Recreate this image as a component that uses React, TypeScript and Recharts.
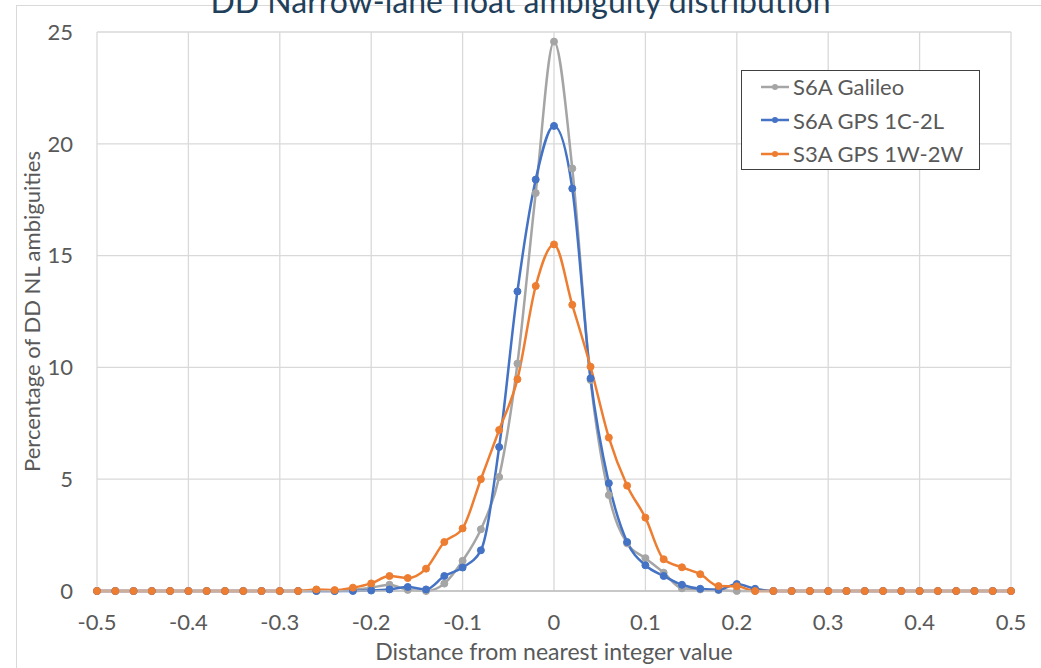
import { LineChart, Line, XAxis, YAxis, CartesianGrid } from 'recharts'

// distance from nearest integer, -0.5 .. 0.5 in steps of 0.02
const xValues = [
  -0.5, -0.48, -0.46, -0.44, -0.42, -0.4, -0.38, -0.36, -0.34, -0.32, -0.3, -0.28, -0.26,
  -0.24, -0.22, -0.2, -0.18, -0.16, -0.14, -0.12, -0.1, -0.08, -0.06, -0.04, -0.02, 0,
  0.02, 0.04, 0.06, 0.08, 0.1, 0.12, 0.14, 0.16, 0.18, 0.2, 0.22, 0.24, 0.26, 0.28, 0.3,
  0.32, 0.34, 0.36, 0.38, 0.4, 0.42, 0.44, 0.46, 0.48, 0.5,
]

const s6aGalileo = [
  0, 0, 0, 0, 0, 0, 0, 0, 0, 0, 0, 0, 0,
  0, 0.05, 0.15, 0.28, 0.05, 0, 0.33, 1.35, 2.76, 5.1, 10.17, 17.8, 24.57,
  18.9, 9.44, 4.29, 2.13, 1.47, 0.82, 0.12, 0.07, 0.04, 0, 0, 0, 0, 0, 0,
  0, 0, 0, 0, 0, 0, 0, 0, 0, 0,
]

const s6aGps = [
  0, 0, 0, 0, 0, 0, 0, 0, 0, 0, 0, 0, 0,
  0, 0, 0.02, 0.07, 0.18, 0.07, 0.67, 1.05, 1.82, 6.44, 13.4, 18.4, 20.8,
  18.0, 9.51, 4.82, 2.19, 1.15, 0.67, 0.28, 0.1, 0.06, 0.31, 0.1, 0, 0, 0, 0,
  0, 0, 0, 0, 0, 0, 0, 0, 0, 0,
]

const s3aGps = [
  0, 0, 0, 0, 0, 0, 0, 0, 0, 0, 0, 0, 0.07,
  0.04, 0.15, 0.34, 0.67, 0.58, 1.0, 2.19, 2.8, 5.0, 7.2, 9.47, 13.64, 15.5,
  12.8, 10.03, 6.86, 4.71, 3.28, 1.42, 1.06, 0.75, 0.22, 0.21, 0, 0, 0, 0, 0,
  0, 0, 0, 0, 0, 0, 0, 0, 0, 0,
]

const xTicks = [-0.5, -0.4, -0.3, -0.2, -0.1, 0, 0.1, 0.2, 0.3, 0.4, 0.5]
const yTicks = [0, 5, 10, 15, 20, 25]

const series = [
  { key: 'S6A Galileo', color: '#A5A5A5', values: s6aGalileo },
  { key: 'S6A GPS 1C-2L', color: '#4472C4', values: s6aGps },
  { key: 'S3A GPS 1W-2W', color: '#ED7D31', values: s3aGps },
]

const data = xValues.map((x, i) => {
  const row: any = { x }
  series.forEach(s => { row[s.key] = s.values[i] })
  return row
})

const font = 'Lato, "Open Sans", sans-serif'
const txt = '#595959'

const fmtX = (v: number) => (v === 0 ? '0' : String(v))

function LegendBox() {
  return (
    <div style={{
      position: 'absolute', left: 741, top: 70, width: 239, height: 100,
      border: '1px solid #404040', background: '#fff',
      boxSizing: 'border-box', padding: '0 0 0 19px', fontFamily: font,
    }}>
      {series.map(s => (
        <div key={s.key} style={{ display: 'flex', alignItems: 'center', height: 33.5, marginTop: s === series[0] ? -1 : 0 }}>
          <svg width={30} height={10} style={{ marginRight: 2 }}>
            <line x1={0} y1={5} x2={28} y2={5} stroke={s.color} strokeWidth={2.5} />
            <circle cx={14} cy={5} r={3} fill={s.color} />
          </svg>
          <span style={{ fontSize: 22, color: txt }}>{s.key}</span>
        </div>
      ))}
    </div>
  )
}

export default function App() {
  return (
    <div style={{ position: 'absolute', left: 0, top: 0, width: 1041, height: 668, background: '#fff', overflow: 'hidden' }}>
      <div style={{
        position: 'absolute', left: 16, top: 5, width: 1100, height: 800,
        border: '1px solid #D9D9D9',
      }} />
      <div style={{
        position: 'absolute', top: -15, left: 0, width: 1041, textAlign: 'center',
        fontFamily: font, fontSize: 32, lineHeight: 1, color: '#1F3F5B',
      }}>
        DD Narrow-lane float ambiguity distribution
      </div>
      <div style={{ position: 'absolute', left: 0, top: 0 }}>
        <LineChart width={1041} height={668} data={data}
          margin={{ top: 32, right: 30, left: 0, bottom: 0 }}>
          <CartesianGrid stroke="#D9D9D9" strokeWidth={1.3} />
          <XAxis dataKey="x" type="number" domain={[-0.5, 0.5]} ticks={xTicks}
            tickFormatter={fmtX} height={77} tickLine={false} tickMargin={17}
            axisLine={{ stroke: '#BFBFBF', strokeWidth: 1.5 }}
            tick={{ fontSize: 22, fill: txt, fontFamily: font }}
            label={{ value: 'Distance from nearest integer value', position: 'insideBottom', offset: 8, fontSize: 23, fill: txt, fontFamily: font }} />
          <YAxis type="number" domain={[0, 25]} ticks={yTicks} width={97}
            tickLine={false} axisLine={false} tickMargin={18}
            tick={{ fontSize: 22, fill: txt, fontFamily: font }}
            label={{ value: 'Percentage of DD NL ambiguities', angle: -90, position: 'insideLeft', offset: 32, style: { textAnchor: 'middle' }, fontSize: 22, fill: txt, fontFamily: font }} />
          {series.map(s => (
            <Line key={s.key} type="monotone" dataKey={s.key} stroke={s.color} strokeWidth={2.5}
              dot={{ r: 3.5, fill: s.color, stroke: s.color, strokeWidth: 1 }}
              activeDot={false} isAnimationActive={false} />
          ))}
        </LineChart>
      </div>
      <LegendBox />
    </div>
  )
}
